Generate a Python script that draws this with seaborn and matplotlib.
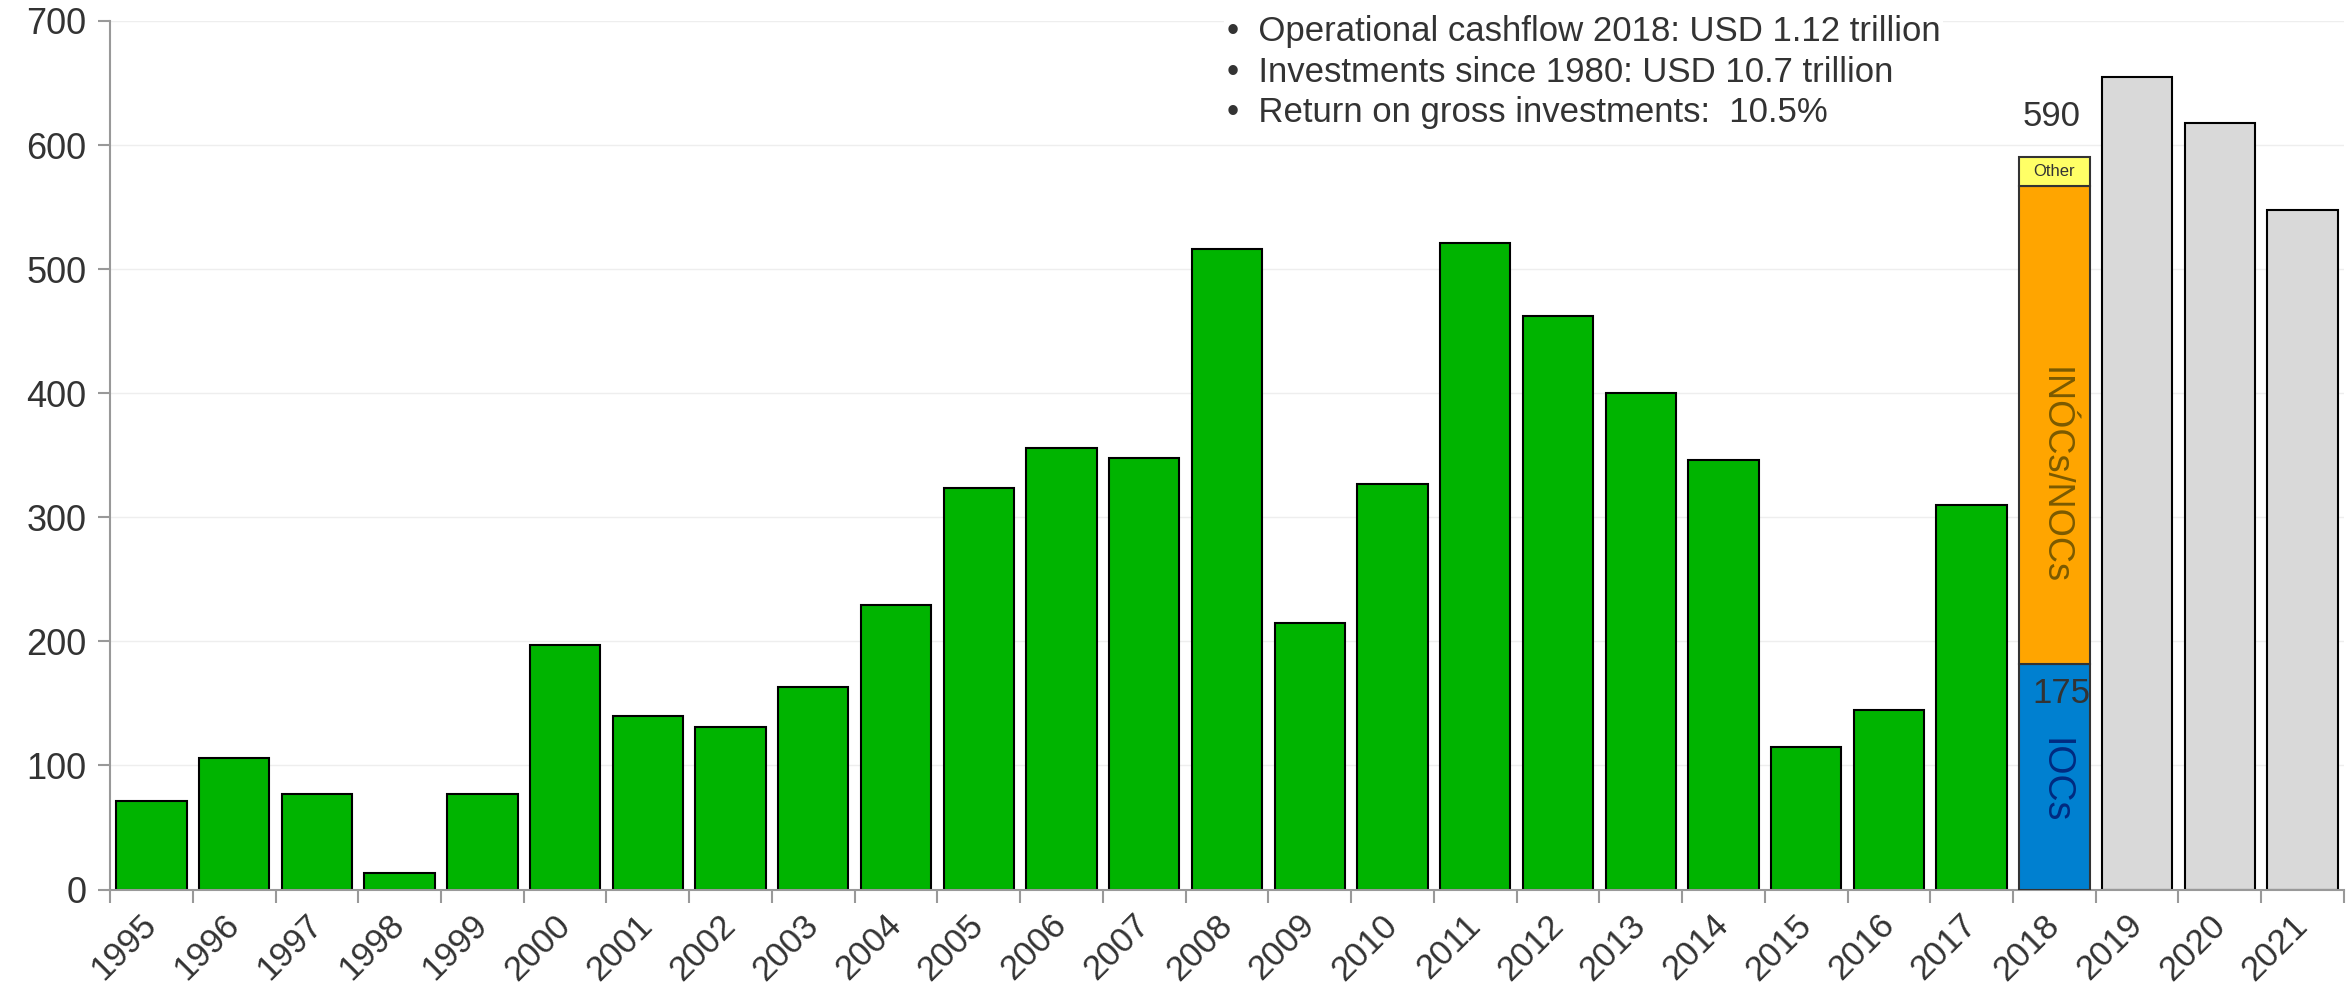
import matplotlib
matplotlib.use("Agg")
import matplotlib.pyplot as plt
import seaborn as sns
import pandas as pd
import numpy as np

years = [str(y) for y in range(1995, 2022)]
values = [71, 106, 77, 13, 77, 197, 140, 131, 163, 229, 324, 356, 348, 516,
          215, 327, 521, 462, 400, 346, 115, 145, 310, 0, 655, 618, 548]
year_2018 = "2018"
seg_labels = ["IOCs", "INÓCs/NOCs", "Other"]
seg_values = [182, 385, 23]
total_2018 = 590
iocs_label = 175
bullets = ["Operational cashflow 2018: USD 1.12 trillion",
           "Investments since 1980: USD 10.7 trillion",
           "Return on gross investments:  10.5%"]

sns.set_theme(style="white")
plt.rcParams['font.family'] = ['Liberation Sans', 'DejaVu Sans']
TXT = "#333333"

fig = plt.figure(figsize=(23.51, 9.99), dpi=100)
ax = fig.add_axes([0.0468, 0.1096, 0.9502, 0.8694])

colors = ["#00b400" if int(y) < 2018 else ("#d9d9d9" if int(y) > 2018 else "none") for y in years]
df = pd.DataFrame({"year": years, "value": values})
sns.barplot(data=df, x="year", y="value", hue="year", palette=colors, legend=False,
            order=years, width=0.85, edgecolor="black", linewidth=1.5, ax=ax, saturation=1)

# 2018 stacked
i18 = years.index(year_2018)
seg_colors = ["#0080d0", "#ffa500", "#ffff66"]
bottom = 0
for lab, v, c in zip(seg_labels, seg_values, seg_colors):
    ax.bar(i18, v, bottom=bottom, width=0.85, color=c, edgecolor="#333333", linewidth=1.5, zorder=3)
    bottom += v

ax.text(i18, 88, "IOCs", rotation=-90, ha="center", va="center",
        fontsize=27, color="#002a80", zorder=4)
ax.text(i18, 334, "INÓCs/NOCs", rotation=-90, ha="center", va="center",
        fontsize=26, color="#7a5a00", zorder=4)
ax.text(i18, seg_values[0] + seg_values[1] + seg_values[2] / 2, "Other", ha="center", va="center",
        fontsize=12, color=TXT, zorder=4)
ax.text(i18 + 0.08, 158, str(iocs_label), ha="center", va="center",
        fontsize=25, color=TXT, zorder=4)
ax.text(i18 - 0.03, 623, str(total_2018), ha="center", va="center",
        fontsize=25, color=TXT, zorder=4)

ax.text(13.0, 705, "\n".join("•  " + b for b in bullets), ha="left", va="top",
        fontsize=25, color=TXT, linespacing=1.3, zorder=5,
        bbox=dict(facecolor="white", edgecolor="none", pad=2))

ax.set_ylim(0, 700)
ax.set_xlim(-0.5, len(years) - 0.5)
ax.set_yticks(np.arange(0, 701, 100))
ax.yaxis.grid(True, color="#eeeeee", linewidth=1)
ax.set_axisbelow(True)
ax.tick_params(axis="y", labelsize=26, labelcolor=TXT, length=9, color="#999999", width=1.5, left=True, pad=8)
ax.set_xticks(range(len(years)))
ax.set_xticklabels(years, rotation=45, ha="right", va="center", rotation_mode="anchor", fontsize=25, color=TXT)
ax.tick_params(axis="x", which="major", length=0, pad=22)
ax.set_xticks(np.arange(-0.5, len(years), 1), minor=True)
ax.tick_params(axis="x", which="minor", length=9, color="#999999", width=1.5, bottom=True)
ax.set_xlabel("")
ax.set_ylabel("")
for s in ["top", "right"]:
    ax.spines[s].set_visible(False)
for s in ["left", "bottom"]:
    ax.spines[s].set_color("#999999")
    ax.spines[s].set_linewidth(1.5)

fig.savefig("out.png", dpi=100)
